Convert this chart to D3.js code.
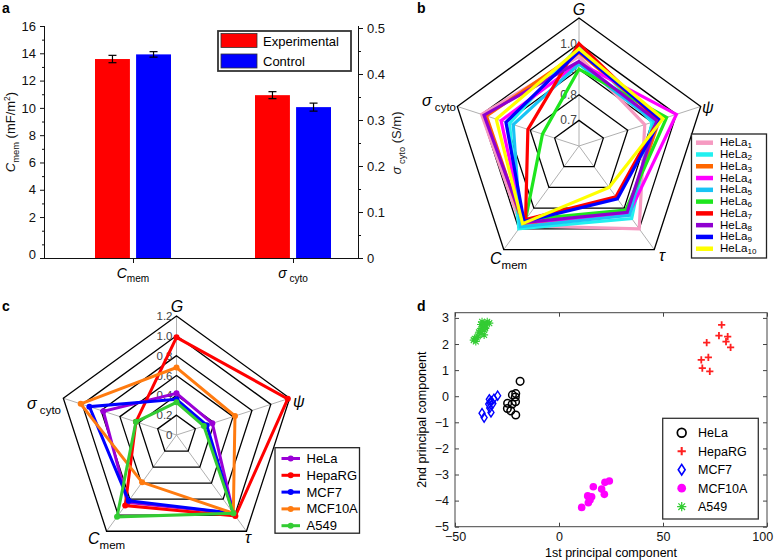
<!DOCTYPE html>
<html><head><meta charset="utf-8">
<script src="https://cdn.jsdelivr.net/npm/d3@7"></script>
<style>body{margin:0;background:#fff}svg{display:block;font-family:"Liberation Sans",Arial,Helvetica,sans-serif}</style>
</head><body><svg id="chart" width="776" height="560"></svg>
<script>
// ---------- Panel a data ----------
const barCategories = ["Cmem", "sigma"];
const barSeries = ["Experimental", "Control"];
const barColors = ["#ff0000", "#0000ff"];
const expValues = [13.58, 0.354];
const ctrlValues = [13.92, 0.328];
const expErr = [0.27, 0.0076];
const ctrlErr = [0.2, 0.0087];
const leftTicks = [-1, 2, 4, 6, 8, 10, 12, 14, 16];
const leftTickLabels = ["0", "2", "4", "6", "8", "10", "12", "14", "16"];
const leftMinor = [0, 1, 3, 5, 7, 9, 11, 13, 15];
const rightTicks = [0, 0.1, 0.2, 0.3, 0.4, 0.5];
const rightMinor = [0.05, 0.15, 0.25, 0.35, 0.45];

// ---------- Panel b data (axes: G, psi, tau, Cmem, sigma_cyto) ----------
const helaNames = ["1", "2", "3", "4", "5", "6", "7", "8", "9", "10"];
const helaColors = ["#f69ac1", "#22f0f0", "#ff6600", "#ff00ff", "#19c3f5", "#1ee61e", "#ff0000", "#8f00d0", "#0000ff", "#ffff00"];
const helaG     = [0.95, 0.99, 0.965, 0.925, 0.92, 0.90, 1.00, 0.93, 0.97, 0.98];
const helaPsi   = [0.87, 0.90, 0.93, 1.00, 0.91, 0.96, 0.925, 0.92, 0.935, 0.945];
const helaTau   = [1.00, 0.95, 0.925, 0.93, 0.935, 0.91, 0.845, 0.92, 0.855, 0.80];
const helaCmem  = [0.985, 1.00, 0.975, 0.97, 0.99, 0.955, 0.955, 0.97, 0.965, 0.975];
const helaSigma = [1.00, 0.885, 0.98, 0.92, 0.87, 0.75, 0.81, 0.99, 0.90, 0.94];
const ringsB = [0.7, 0.8, 0.9, 1.0, 1.1];
const ringLabelsB = ["0.7", "0.8", "0.9", "1.0"];

// ---------- Panel c data ----------
const cellNames = ["HeLa", "HepaRG", "MCF7", "MCF10A", "A549"];
const cellColors = ["#9a00d6", "#ff0000", "#0000ff", "#ff7b10", "#33cc33"];
const cellG     = [0.42, 0.985, 0.36, 0.68, 0.33];
const cellPsi   = [0.38, 1.18, 0.32, 0.62, 0.29];
const cellTau   = [0.975, 1.01, 0.975, 0.975, 0.975];
const cellCmem  = [0.84, 0.88, 0.82, 0.59, 1.02];
const cellSigma = [0.776, 0.43, 0.924, 1.016, 0.43];
const ringsC = [0.2, 0.4, 0.6, 0.8, 1.0, 1.2];
const ringLabelsC = ["0", "0.2", "0.4", "0.6", "0.8", "1.0", "1.2"];

// ---------- Panel d data ----------
const pcaHeLa = [[-18.7,0.57],[-20.8,0.1],[-22.4,0.05],[-21.0,-0.03],[-24.7,-0.27],[-22.5,-0.3],[-20.9,-0.21],[-24.8,-0.47],[-23.2,-0.56],[-20.8,-0.72]];
const pcaHepaRG = [[78.2,2.73],[76.9,2.32],[81.1,2.28],[71.0,2.05],[80.3,2.09],[82.5,1.87],[71.8,1.49],[68.4,1.39],[68.9,1.08],[72.5,0.95]];
const pcaMCF7 = [[-37.0,-0.65],[-36.0,-0.82],[-33.5,-0.12],[-33.2,-0.25],[-33.8,-0.3],[-33.3,-0.45],[-32.7,-0.62],[-31.8,-0.28],[-31.3,-0.1],[-29.5,0.02],[-32.5,-0.2]];
const pcaMCF10A = [[10.9,-4.26],[14.1,-4.08],[13.8,-3.82],[15.7,-3.85],[14.9,-3.98],[16.5,-3.47],[20.5,-3.56],[21.8,-3.76],[22.1,-3.3],[24.2,-3.25],[14.5,-3.9]];
const pcaA549 = [[-41,2.15],[-40.5,2.2],[-40,2.1],[-39.5,2.25],[-39,2.3],[-38.5,2.45],[-38,2.5],[-37.5,2.4],[-37,2.6],[-36.5,2.65],[-36,2.55],[-37.5,2.75],[-36,2.8],[-35,2.7],[-34.5,2.85],[-33.5,2.8],[-37,2.85],[-36,2.35],[-35.5,2.6]];
const pcaXTicks = [-50, 0, 50, 100];
const pcaYTicks = [-5, -4, -3, -2, -1, 0, 1, 2, 3];

const svg = d3.select("#chart");
svg.append("rect").attr("width", 776).attr("height", 560).attr("fill", "#fff");

// rich text helper
function rich(sel, parts, size) {
  parts.forEach(p => {
    const t = sel.append("tspan").text(p.t);
    if (p.i) t.attr("font-style", "italic");
    if (p.sub) t.attr("font-size", size * (p.subScale || 0.72)).attr("dy", p.subDy !== undefined ? p.subDy : size * 0.3);
    if (p.sup) t.attr("font-size", size * 0.65).attr("dy", -size * 0.4);
    if (p.back) t.attr("dy", p.back);
  });
  return sel;
}
function panelLabel(x, y, s) {
  svg.append("text").attr("x", x).attr("y", y).attr("font-weight", "bold").attr("font-size", 14).text(s);
}

// ================= Panel a =================
(function () {
  const g = svg.append("g");
  const x0 = 45, x1 = 358, yB = 258, yT = 26;
  const yL = d3.scaleLinear().domain([-1, 16]).range([yB, yT]);
  const yR = d3.scaleLinear().domain([0, 0.5]).range([yB, 28]);
  const xC = d3.scalePoint().domain(barCategories).range([133, 293]);
  const xS = d3.scaleBand().domain(barSeries).range([-38, 38]).paddingInner(0.15);
  const scales = [yL, yR];
  const vals = [expValues, ctrlValues], errs = [expErr, ctrlErr];

  barCategories.forEach((c, ci) => {
    barSeries.forEach((s, si) => {
      const y = scales[ci];
      const v = vals[si][ci], e = errs[si][ci];
      const bx = xC(c) + xS(s);
      g.append("rect").attr("x", bx).attr("y", y(v)).attr("width", xS.bandwidth())
        .attr("height", yB - y(v)).attr("fill", barColors[si]);
      const cxp = bx + xS.bandwidth() / 2;
      g.append("line").attr("x1", cxp).attr("x2", cxp).attr("y1", y(v + e)).attr("y2", y(v - e)).attr("stroke", "#000").attr("stroke-width", 1.2);
      [v + e, v - e].forEach(w => g.append("line").attr("x1", cxp - 4).attr("x2", cxp + 4).attr("y1", y(w)).attr("y2", y(w)).attr("stroke", "#000").attr("stroke-width", 1.2));
    });
  });

  // left axis
  const la = d3.axisLeft(yL).tickValues(leftTicks).tickFormat((d, i) => leftTickLabels[i]).tickSize(5).tickPadding(4);
  const lg = g.append("g").attr("transform", `translate(${x0},0)`).call(la);
  lg.select(".domain").attr("d", `M-0.5,${yT}V${yB}`);
  lg.selectAll(".tick").filter(d => d === -1).select("text").attr("dy", "0.05em");
  const lmin = g.append("g").attr("transform", `translate(${x0},0)`).call(d3.axisLeft(yL).tickValues(leftMinor).tickSize(3).tickFormat(""));
  lmin.select(".domain").remove();
  // right axis
  const rg = g.append("g").attr("transform", `translate(${x1},0)`).call(d3.axisRight(yR).tickValues(rightTicks).tickFormat(d3.format(".1~f")).tickSize(5).tickPadding(4));
  rg.select(".domain").attr("d", `M0.5,${yT}V${yB}`);
  const rmin = g.append("g").attr("transform", `translate(${x1},0)`).call(d3.axisRight(yR).tickValues(rightMinor).tickSize(3).tickFormat(""));
  rmin.select(".domain").remove();
  // bottom axis
  const bg = g.append("g").attr("transform", `translate(0,${yB})`).call(d3.axisBottom(xC).tickSize(5).tickFormat(""));
  bg.select(".domain").attr("d", `M${x0},0.5H${x1}`);
  g.selectAll("text").attr("font-size", 13).attr("font-family", "Liberation Sans, Arial, sans-serif").attr("fill", "#111");
  g.selectAll(".domain, .tick line").attr("stroke", "#111");

  // category labels
  rich(g.append("text").attr("x", xC("Cmem")).attr("y", 278).attr("text-anchor", "middle").attr("font-size", 14),
    [{ t: "C", i: true }, { t: "mem", sub: true }], 14);
  rich(g.append("text").attr("x", xC("sigma")).attr("y", 278).attr("text-anchor", "middle").attr("font-size", 14),
    [{ t: "σ", i: true }, { t: " cyto", sub: true }], 14);

  // axis titles
  rich(g.append("text").attr("transform", "translate(15,132) rotate(-90)").attr("text-anchor", "middle").attr("font-size", 13).attr("fill", "#111"),
    [{ t: "C", i: true }, { t: "mem", sub: true }, { t: " (mF/m", back: -13 * 0.3 }, { t: "2", sup: true }, { t: ")", back: 13 * 0.4 }], 13);
  rich(g.append("text").attr("transform", "translate(401,143) rotate(-90)").attr("text-anchor", "middle").attr("font-size", 13).attr("fill", "#222"),
    [{ t: "σ", i: true }, { t: " cyto", sub: true }, { t: " (S/m)", back: -13 * 0.3 }], 13);

  // legend
  const lgd = g.append("g");
  lgd.append("rect").attr("x", 218).attr("y", 31).attr("width", 133).attr("height", 40).attr("fill", "#fff").attr("stroke", "#333").attr("stroke-width", 1.8);
  barSeries.forEach((s, i) => {
    const yy = 33.5 + i * 20.5;
    lgd.append("rect").attr("x", 221).attr("y", yy).attr("width", 36).attr("height", 14).attr("fill", barColors[i]).attr("stroke", "#333").attr("stroke-width", 0.8);
    lgd.append("text").attr("x", 263).attr("y", yy + 12).attr("font-size", 13).text(s);
  });
  panelLabel(2, 13, "a");
})();

// ================= Radar helper =================
function radar(cfg) {
  const g = svg.append("g");
  const { cx, cy, R, r, rings, ringLabels, labelVals, series } = cfg;
  const ang = i => i * 2 * Math.PI / 5;
  const pt = (i, rad) => [cx + rad * Math.sin(ang(i)), cy - rad * Math.cos(ang(i))];
  for (let i = 0; i < 5; i++) {
    const p = pt(i, R);
    g.append("line").attr("x1", cx).attr("y1", cy).attr("x2", p[0]).attr("y2", p[1]).attr("stroke", "#b0b0b0").attr("stroke-width", 1);
  }
  rings.forEach(v => {
    g.append("path").attr("d", "M" + d3.range(5).map(i => pt(i, r(v)).join(",")).join("L") + "Z")
      .attr("fill", "none").attr("stroke", "#000").attr("stroke-width", 1.3);
  });
  ringLabels.forEach((lab, k) => {
    g.append("text").attr("x", cx - cfg.labelDx).attr("y", cy - r(labelVals[k]) + 4)
      .attr("text-anchor", "end").attr("font-size", cfg.labelSize).attr("fill", "#444").text(lab);
  });
  const line = d3.lineRadial().angle((d, i) => ang(i)).radius(d => r(d)).curve(d3.curveLinearClosed);
  series.forEach(s => {
    g.append("path").attr("transform", `translate(${cx},${cy})`).attr("d", line(s.values))
      .attr("fill", "none").attr("stroke", s.color).attr("stroke-width", cfg.lw).attr("stroke-linejoin", "miter");
    if (cfg.markers) {
      s.values.forEach((v, i) => {
        const p = pt(i, r(v));
        g.append("circle").attr("cx", p[0]).attr("cy", p[1]).attr("r", 3).attr("fill", s.color);
      });
    }
  });
  // axis labels
  const L = cfg.axisLabelPos, fs = cfg.axisFont;
  g.append("text").attr("x", L[0][0]).attr("y", L[0][1]).attr("text-anchor", "middle").attr("font-size", fs).attr("font-style", "italic").text("G");
  g.append("text").attr("x", L[1][0]).attr("y", L[1][1]).attr("font-size", fs).attr("font-style", "italic").text("ψ");
  g.append("text").attr("x", L[2][0]).attr("y", L[2][1]).attr("font-size", fs).attr("font-style", "italic").text("τ");
  rich(g.append("text").attr("x", L[3][0]).attr("y", L[3][1]).attr("font-size", fs), [{ t: "C", i: true }, { t: "mem", sub: true }], fs);
  rich(g.append("text").attr("x", L[4][0]).attr("y", L[4][1]).attr("font-size", fs).attr("text-anchor", "end"), [{ t: "σ", i: true }, { t: " cyto", sub: true }], fs);
  return g;
}

// ================= Panel b =================
(function () {
  const rB = d3.scaleLinear().domain([0.6, 1.1]).range([0, 128]);
  const series = helaNames.map((n, i) => ({
    name: n, color: helaColors[i],
    values: [helaG[i], helaPsi[i], helaTau[i], helaCmem[i], helaSigma[i]]
  }));
  radar({
    cx: 579, cy: 146, R: 128, r: rB, rings: ringsB, ringLabels: ringLabelsB, labelVals: [0.7, 0.8, 0.9, 1.0],
    labelDx: 2, labelSize: 12, series, lw: 3.2, markers: false, axisFont: 16,
    axisLabelPos: [[579, 15], [702, 113], [659, 261], [490, 264], [456, 106]]
  });
  // legend
  const lg = svg.append("g");
  lg.append("rect").attr("x", 691.5).attr("y", 134).attr("width", 75).attr("height", 124).attr("fill", "#fff").attr("stroke", "#222").attr("stroke-width", 1.3);
  helaNames.forEach((n, i) => {
    const yy = 142.7 + i * 11.78;
    lg.append("line").attr("x1", 696).attr("x2", 713).attr("y1", yy).attr("y2", yy).attr("stroke", helaColors[i]).attr("stroke-width", 4.5);
    rich(lg.append("text").attr("x", 720).attr("y", yy + 3.5).attr("font-size", 11.5),
      [{ t: "HeLa" }, { t: n, sub: true, subScale: 0.7, subDy: 2 }], 11.5);
  });
  panelLabel(417, 13, "b");
})();

// ================= Panel c =================
(function () {
  const rC = d3.scaleLinear().domain([0, 1.2]).range([0, 119]);
  const series = cellNames.map((n, i) => ({
    name: n, color: cellColors[i],
    values: [cellG[i], cellPsi[i], cellTau[i], cellCmem[i], cellSigma[i]]
  }));
  radar({
    cx: 176.5, cy: 435, R: 119, r: rC, rings: ringsC, ringLabels: ringLabelsC, labelVals: [0, 0.2, 0.4, 0.6, 0.8, 1.0, 1.2],
    labelDx: 4, labelSize: 11.5, series, lw: 3, markers: true, axisFont: 16,
    axisLabelPos: [[177, 312], [293, 407], [245, 543], [88, 544], [61, 409]]
  });
  const lg = svg.append("g");
  lg.append("rect").attr("x", 275).attr("y", 447.7).attr("width", 84.5).attr("height", 85.5).attr("fill", "#fff").attr("stroke", "#222").attr("stroke-width", 1.3);
  cellNames.forEach((n, i) => {
    const yy = 458.5 + i * 16.8;
    lg.append("line").attr("x1", 281.5).attr("x2", 300).attr("y1", yy).attr("y2", yy).attr("stroke", cellColors[i]).attr("stroke-width", 3);
    lg.append("circle").attr("cx", 290.7).attr("cy", yy).attr("r", 3).attr("fill", cellColors[i]);
    lg.append("text").attr("x", 306.5).attr("y", yy + 4.5).attr("font-size", 13).text(n);
  });
  panelLabel(2, 311, "c");
})();

// ================= Panel d =================
(function () {
  const g = svg.append("g");
  const L = 455, Rr = 767, T = 312.7, B = 526.7;
  const x = d3.scaleLinear().domain([-50, 100]).range([L, Rr]);
  const y = d3.scaleLinear().domain([-5, 3.2]).range([B, T]);
  g.append("rect").attr("x", L).attr("y", T).attr("width", Rr - L).attr("height", B - T).attr("fill", "none").attr("stroke", "#444").attr("stroke-width", 1);
  const xa = g.append("g").attr("transform", `translate(0,${B})`).call(d3.axisBottom(x).tickValues(pcaXTicks).tickSize(-4).tickPadding(5));
  xa.selectAll(".tick").filter(d => d === 100).select("text").attr("text-anchor", "end").attr("dx", "0.45em");
  const ya = g.append("g").attr("transform", `translate(${L},0)`).call(d3.axisLeft(y).tickValues(pcaYTicks).tickSize(-4).tickPadding(6));
  g.append("g").attr("transform", `translate(0,${T})`).call(d3.axisTop(x).tickValues(pcaXTicks).tickSize(-4).tickFormat(""));
  g.append("g").attr("transform", `translate(${Rr},0)`).call(d3.axisRight(y).tickValues(pcaYTicks).tickSize(-4).tickFormat(""));
  g.selectAll(".domain").remove();
  g.selectAll(".tick line").attr("stroke", "#444");
  g.selectAll(".tick text").attr("font-size", 12.5).attr("font-family", "Liberation Sans, Arial, sans-serif").attr("fill", "#111");

  const sym = {
    circle: (s, c) => s.append("circle").attr("r", 3.8).attr("fill", "none").attr("stroke", c).attr("stroke-width", 1.5),
    plus: (s, c) => s.append("path").attr("d", "M-3.6,0H3.6M0,-3.6V3.6").attr("stroke", c).attr("stroke-width", 1.8),
    diamond: (s, c) => s.append("path").attr("d", "M0,-4.6L3,0L0,4.6L-3,0Z").attr("fill", "none").attr("stroke", c).attr("stroke-width", 1.4),
    dot: (s, c) => s.append("circle").attr("r", 3.8).attr("fill", c),
    star: (s, c) => s.append("path").attr("d", "M-4,0H4M0,-4V4M-2.9,-2.9L2.9,2.9M-2.9,2.9L2.9,-2.9").attr("stroke", c).attr("stroke-width", 1.1)
  };
  const groups = [
    { name: "HeLa", data: pcaHeLa, sym: "circle", color: "#000" },
    { name: "HepaRG", data: pcaHepaRG, sym: "plus", color: "#ff2020" },
    { name: "MCF7", data: pcaMCF7, sym: "diamond", color: "#0000ff" },
    { name: "MCF10A", data: pcaMCF10A, sym: "dot", color: "#ff00ff" },
    { name: "A549", data: pcaA549, sym: "star", color: "#33cc33" }
  ];
  groups.forEach(gr => {
    gr.data.forEach(d => {
      const s = g.append("g").attr("transform", `translate(${x(d[0])},${y(d[1])})`);
      sym[gr.sym](s, gr.color);
    });
  });
  // legend
  g.append("rect").attr("x", 662.7).attr("y", 418.3).attr("width", 95.6).attr("height", 100.7).attr("fill", "#fff").attr("stroke", "#333").attr("stroke-width", 1.3);
  groups.forEach((gr, i) => {
    const yy = 432.7 + i * 18.5;
    const s = g.append("g").attr("transform", `translate(681.7,${yy})`);
    sym[gr.sym](s, gr.color);
    s.selectAll("*").attr("transform", "scale(1.15)");
    g.append("text").attr("x", 698).attr("y", yy + 4.5).attr("font-size", 12.5).text(gr.name);
  });
  g.append("text").attr("x", (L + Rr) / 2).attr("y", 557).attr("text-anchor", "middle").attr("font-size", 12.5).text("1st principal component");
  g.append("text").attr("transform", `translate(426,${(T + B) / 2}) rotate(-90)`).attr("text-anchor", "middle").attr("font-size", 12.5).text("2nd principal component");
  panelLabel(417, 311, "d");
})();
</script></body></html>
